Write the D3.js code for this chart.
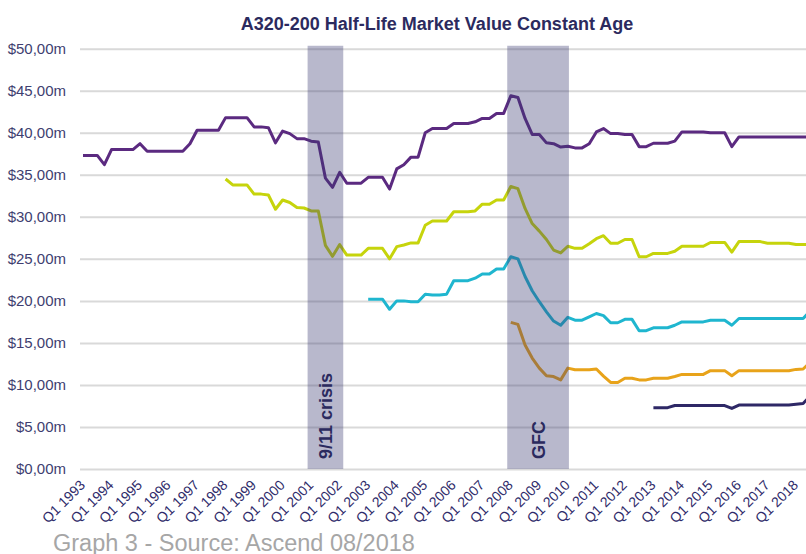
<!DOCTYPE html>
<html>
<head>
<meta charset="utf-8">
<script src="https://cdn.jsdelivr.net/npm/d3@7"></script>
<style>
  body { margin: 0; background: #fff; }
  svg { display: block; font-family: "Liberation Sans", Arial, sans-serif; }
</style>
</head>
<body>
<div id="chart"></div>
<script>

// quarters Q1 1993 .. Q3 2018
var quarters = [];
d3.range(1993, 2019).forEach(function(yr) {
  [1, 2, 3, 4].forEach(function(q) { quarters.push("Q" + q + " " + yr); });
});
quarters = quarters.slice(0, 103);

var yTicks = [0, 5, 10, 15, 20, 25, 30, 35, 40, 45, 50];

// values in $m, each series starts at its own quarter
var purpleStart = "Q1 1993";
var purpleVals = [37.3,37.3,37.3,36.2,38.0,38.0,38.0,38.0,38.7,37.8,
  37.8,37.8,37.8,37.8,37.8,38.7,40.3,40.3,40.3,40.3,
  41.8,41.8,41.8,41.8,40.7,40.7,40.6,38.8,40.2,39.9,
  39.3,39.3,39.0,38.9,34.6,33.5,35.3,34.0,34.0,34.0,
  34.7,34.7,34.7,33.3,35.7,36.2,37.1,37.1,40.0,40.5,
  40.5,40.5,41.1,41.1,41.1,41.3,41.7,41.7,42.3,42.3,
  44.4,44.2,41.7,39.8,39.8,38.8,38.7,38.3,38.4,38.2,
  38.2,38.7,40.1,40.5,39.9,39.9,39.8,39.8,38.35,38.35,
  38.75,38.75,38.75,39.0,40.1,40.1,40.1,40.1,40.0,40.0,
  40.0,38.35,39.5,39.5,39.5,39.5,39.5,39.5,39.5,39.5,
  39.5,39.5,39.5];

var limeStart = "Q1 1998";
var limeVals = [34.5,33.8,33.8,33.8,32.7,32.7,32.6,30.9,32.0,31.7,
  31.1,31.05,30.7,30.7,26.6,25.3,26.7,25.45,25.45,25.45,
  26.25,26.25,26.25,25.0,26.45,26.65,26.9,26.9,29.0,29.5,
  29.5,29.5,30.6,30.6,30.6,30.7,31.5,31.5,32.0,32.0,
  33.6,33.35,31.0,29.2,28.3,27.3,26.05,25.7,26.5,26.25,
  26.25,26.8,27.4,27.75,26.85,26.85,27.3,27.3,25.25,25.25,
  25.65,25.65,25.65,25.9,26.5,26.5,26.5,26.5,26.95,26.95,
  26.95,25.8,27.05,27.05,27.05,27.05,26.85,26.85,26.85,26.85,
  26.7,26.7,26.7];

var cyanStart = "Q1 2003";
var cyanVals = [20.2,20.2,20.2,19.0,20.0,20.0,19.9,19.9,20.8,20.7,
  20.7,20.8,22.4,22.4,22.4,22.7,23.2,23.2,23.8,23.8,
  25.25,25.0,22.9,21.2,19.9,18.7,17.6,17.1,18.05,17.7,
  17.7,18.1,18.5,18.25,17.4,17.4,17.8,17.8,16.45,16.45,
  16.8,16.8,16.8,17.1,17.5,17.5,17.5,17.5,17.7,17.7,
  17.7,17.1,17.9,17.9,17.9,17.9,17.9,17.9,17.9,17.9,
  17.9,17.9,18.8];

var orangeStart = "Q1 2008";
var orangeVals = [17.45,17.2,14.75,13.2,12.0,11.1,11.0,10.6,12.0,11.8,
  11.8,11.8,11.9,11.05,10.3,10.3,10.8,10.8,10.6,10.6,
  10.8,10.8,10.8,11.0,11.25,11.25,11.25,11.25,11.7,11.7,
  11.7,11.1,11.7,11.7,11.7,11.7,11.7,11.7,11.7,11.7,
  11.85,11.9,12.7];

var navyStart = "Q1 2013";
var navyVals = [7.3,7.3,7.3,7.55,7.55,7.55,7.55,7.55,7.55,7.55,
  7.55,7.2,7.6,7.6,7.6,7.6,7.6,7.6,7.6,7.6,
  7.7,7.8,8.7];

// crisis periods, in quarters (edges between quarters)
var crisisLabels = ["9/11 crisis", "GFC"];
var crisisFrom = ["Q1 2001", "Q1 2008"];
var crisisTo = ["Q1 2002", "Q1 2010"];
var crisisTop = 50.35;

var series = [
  {start: purpleStart, vals: purpleVals, color: "#5b2a80"},
  {start: limeStart, vals: limeVals, color: "#c6d40c"},
  {start: cyanStart, vals: cyanVals, color: "#1fb6cf"},
  {start: orangeStart, vals: orangeVals, color: "#e8a31a"},
  {start: navyStart, vals: navyVals, color: "#2e2866"}
];

var width = 806,
    height = 554,
    margin = {top: 48.7, right: 0, bottom: 85, left: 80};

var svg = d3.select("#chart").append("svg")
  .attr("width", width)
  .attr("height", height);

var x = d3.scalePoint()
  .domain(quarters)
  .range([83, 83 + 102 * 7.13]);
var step = x.step();

var y = d3.scaleLinear()
  .domain([0, 50])
  .range([469, margin.top]);

// title
svg.append("text")
  .attr("x", 437)
  .attr("y", 30)
  .attr("text-anchor", "middle")
  .style("font-size", "18px")
  .style("font-weight", "bold")
  .style("fill", "#2b2a5e")
  .text("A320-200 Half-Life Market Value Constant Age");

// y axis with gridlines
var yAxis = d3.axisLeft(y)
  .tickValues(yTicks)
  .tickSize(-(width - margin.left))
  .tickPadding(14)
  .tickFormat(function(d) { return "$" + d3.format(".2f")(d).replace(".", ",") + "m"; });

var gy = svg.append("g")
  .attr("transform", "translate(" + margin.left + ",0)")
  .call(yAxis);
gy.select(".domain").remove();
gy.selectAll(".tick line")
  .attr("stroke", "#d9d9d9")
  .attr("stroke-width", 2);
gy.selectAll(".tick text")
  .style("font-size", "15px")
  .style("fill", "#403e70");

// x labels, one per year
var xLabels = quarters.filter(function(q) { return q.indexOf("Q1") === 0; });
svg.append("g").selectAll("text")
  .data(xLabels)
  .enter().append("text")
    .attr("transform", function(d) { return "translate(" + (x(d) + 3) + ",486) rotate(-45)"; })
    .attr("text-anchor", "end")
    .style("font-size", "14px")
    .style("fill", "#2f2b6a")
    .text(function(d) { return d; });

// lines
var line = d3.line()
  .defined(function(d) { return d.v != null; })
  .x(function(d) { return x(d.q); })
  .y(function(d) { return y(d.v); });

series.forEach(function(s) {
  var i0 = quarters.indexOf(s.start);
  var pts = s.vals.map(function(v, i) { return {q: quarters[i0 + i], v: v}; });
  svg.append("path")
    .datum(pts)
    .attr("d", line)
    .attr("fill", "none")
    .attr("stroke", s.color)
    .attr("stroke-width", 3)
    .attr("stroke-linejoin", "round");
});

// crisis bands, drawn over lines
var bands = svg.append("g");
crisisLabels.forEach(function(lbl, i) {
  var x0 = x(crisisFrom[i]) - step / 2,
      x1 = x(crisisTo[i]) + (i === 0 ? step / 2 : step * 0.15);
  bands.append("rect")
    .attr("x", x0)
    .attr("y", y(crisisTop))
    .attr("width", x1 - x0)
    .attr("height", y(0) - y(crisisTop))
    .attr("fill", "#3b3a72")
    .attr("fill-opacity", 0.36);
  bands.append("text")
    .attr("transform", "translate(" + ((x0 + x1) / 2 + 6.5) + ",459) rotate(-90)")
    .style("font-size", "18px")
    .style("font-weight", "bold")
    .style("fill", "#2b2a5e")
    .text(lbl);
});

// source note (cut at the bottom edge, as in the original)
svg.append("text")
  .attr("x", 53)
  .attr("y", 551)
  .style("font-size", "23.5px")
  .style("fill", "#a6a6a6")
  .text("Graph 3 - Source: Ascend 08/2018");

</script>
</body>
</html>
